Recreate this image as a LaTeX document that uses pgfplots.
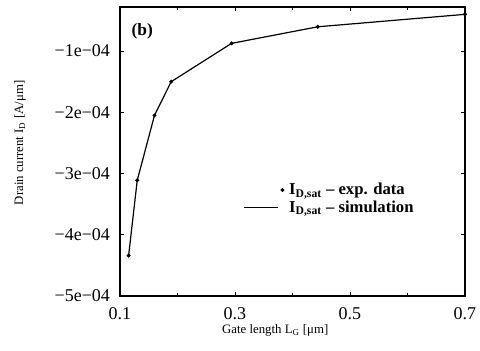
\documentclass[border=0pt]{standalone}
\usepackage{pgfplots}
\pgfplotsset{compat=1.18}
\usepackage{fontspec}
\setmainfont{Liberation Serif}
\begin{document}
\begin{tikzpicture}
\begin{axis}[
  scale only axis,
  width=258.75pt, height=216.75pt,
  xmin=0.1, xmax=0.7,
  ymin=-5e-4, ymax=-0.28e-4,
  xtick={0.1,0.3,0.5,0.7},
  xticklabels={0.1,0.3,0.5,0.7},
  minor xtick={0.2,0.4,0.6},
  ytick={-5e-4,-4e-4,-3e-4,-2e-4,-1e-4},
  yticklabels={−5e−04,−4e−04,−3e−04,−2e−04,−1e−04},
  scaled y ticks=false,
  scaled x ticks=false,
  tick align=inside,
  major tick length=3pt,
  minor tick length=2pt,
  axis line style={line width=0.9pt},
  every tick/.style={black, line width=0.7pt},
  tick label style={font=\fontsize{13.5}{15}\selectfont},
  xticklabel style={yshift=-5pt},
  yticklabel style={xshift=-4pt},
  xlabel={Gate length L\textsubscript{G} [μm]},
  ylabel={Drain current I\textsubscript{D} [A/μm]},
  label style={font=\fontsize{9.6}{12}\selectfont},
  xlabel style={at={(axis description cs:0.45,-0.118)}, anchor=center},
  ylabel style={at={(axis description cs:-0.29,0.53)}, anchor=center, rotate=0},
  legend style={draw=none, fill=none, at={(rel axis cs:0.357,0.40)}, anchor=north west,
    font=\fontsize{12.5}{14}\selectfont\bfseries, row sep=-1pt, inner sep=0pt},
  legend cell align=left,
  clip=false,
]
\addplot[only marks, mark=*, mark size=1.3pt, black,
  legend image code/.code={\path[draw=none,fill=none] (0pt,0pt) -- (32pt,0pt); \fill[black] (29pt,0pt) circle (1.3pt);}]
  coordinates {(0.115,-4.34e-4) (0.130,-3.11e-4) (0.160,-2.05e-4) (0.189,-1.50e-4) (0.294,-0.874e-4) (0.444,-0.603e-4) (0.700,-0.40e-4)};
\addlegendentry{I\textsubscript{D,sat} – exp. data}
\addplot[black, line width=0.9pt, no marks,
  legend image code/.code={\path[draw=none,fill=none] (0pt,0pt) -- (32pt,0pt); \draw[black, line width=0.6pt] (0pt,0pt) -- (26pt,0pt);}]
  coordinates {(0.115,-4.34e-4) (0.130,-3.11e-4) (0.160,-2.05e-4) (0.189,-1.50e-4) (0.294,-0.874e-4) (0.444,-0.603e-4) (0.700,-0.40e-4)};
\addlegendentry{I\textsubscript{D,sat} – simulation}
\node[anchor=north west, font=\fontsize{13}{15}\selectfont\bfseries] at (rel axis cs:0.02,0.96) {(b)};
\end{axis}
\pgfresetboundingbox
\path (-90pt,-41.25pt) rectangle (270pt,222pt);
\end{tikzpicture}
\end{document}
